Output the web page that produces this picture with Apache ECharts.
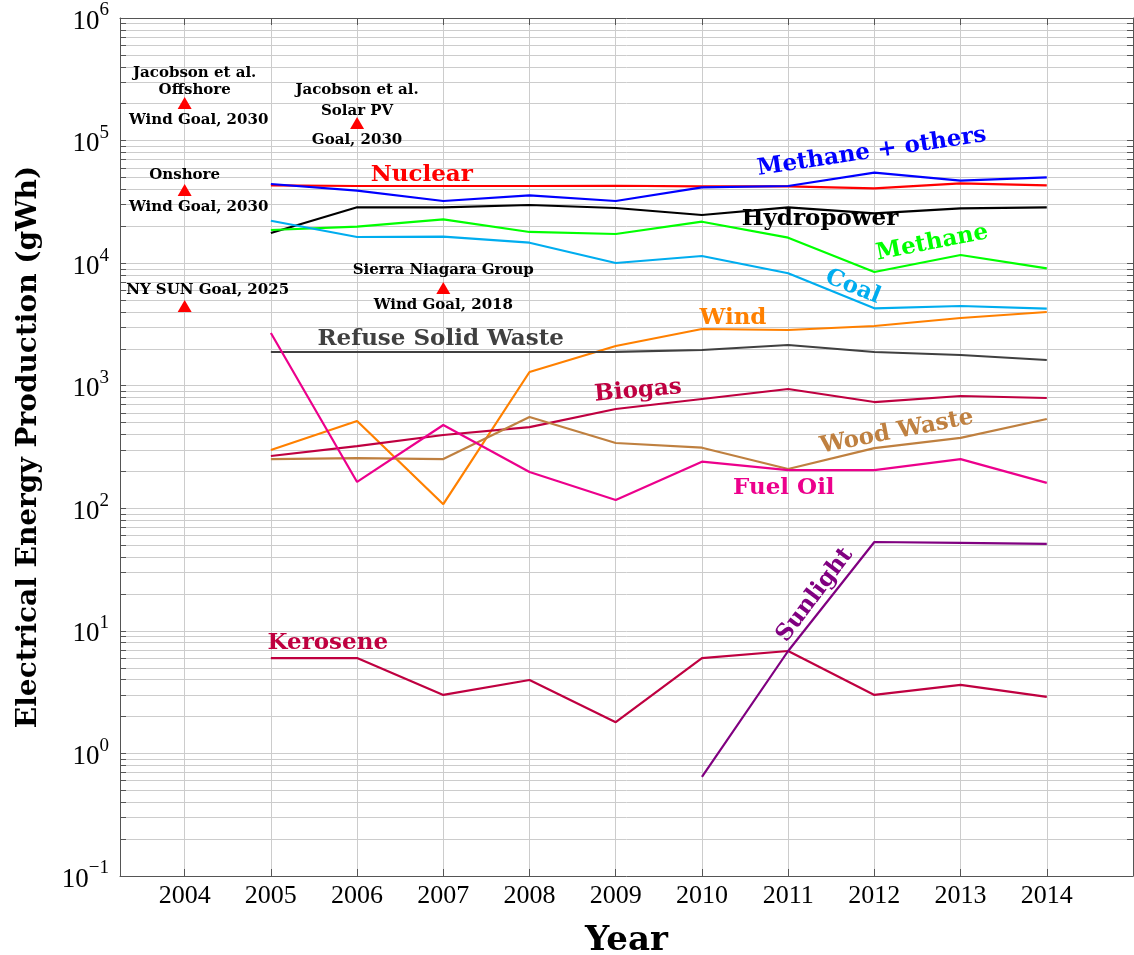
<!DOCTYPE html>
<html>
<head>
<meta charset="utf-8">
<script src="https://cdn.jsdelivr.net/npm/echarts@6/dist/echarts.min.js"></script>
<style>
  html, body { margin: 0; padding: 0; background: #fff; }
  #chart { width: 1134px; height: 955px; }
</style>
</head>
<body>
<div id="chart"></div>
<script>
// data (gWh), one value per year
const years = [2005, 2006, 2007, 2008, 2009, 2010, 2011, 2012, 2013, 2014];
const nuclear = [43150, 42590, 42590, 42590, 42800, 42350, 42350, 40800, 44820, 43150];
const methaneOthers = [44240, 38990, 32140, 35770, 32140, 41560, 42590, 54690, 47060, 50150];
const hydropower = [17620, 28550, 28550, 29810, 28180, 24700, 28550, 25510, 28020, 28550];
const methane = [18640, 19830, 22790, 17960, 17290, 21780, 16130, 8467, 11650, 9077];
const coal = [22190, 16340, 16430, 14680, 10030, 11440, 8264, 4280, 4470, 4249];
const wind = [299, 515, 108, 1294, 2109, 2902, 2848, 3070, 3567, 3994];
const refuseSolidWaste = [1884, 1884, 1884, 1884, 1890, 1956, 2149, 1884, 1781, 1621];
const biogas = [267, 322, 396, 460, 646, 779, 940, 736, 824, 794];
const woodWaste = [252, 257, 252, 555, 341, 312, 209, 310, 375, 535];
const fuelOil = [2692, 164, 478, 198, 117, 240, 205, 205, 252, 161];
const kerosene = [6.0, 6.0, 3.0, 3.97, 1.80, 6.0, 6.85, 3.0, 3.62, 2.89];
const sunlight = [null, null, null, null, null, 0.643, 6.85, 53.1, 52.2, 51.2];

// goals (triangles)
const goalYears = [2004, 2006, 2004, 2007, 2004];
const goalValues = [202600, 139100, 39510, 6269, 4470];
const goalTextAbove = ['Jacobson et al.\nOffshore', 'Jacobson et al.\nSolar PV', 'Onshore', 'Sierra Niagara Group', 'NY SUN Goal, 2025'];
const goalTextBelow = ['Wind Goal, 2030', 'Goal, 2030', 'Wind Goal, 2030', 'Wind Goal, 2018', ''];

// axis ticks
const tickYears = [2004, 2005, 2006, 2007, 2008, 2009, 2010, 2011, 2012, 2013, 2014];
const decades = [0.1, 1, 10, 100, 1000, 10000, 100000, 1000000];

const minorValues = [];
decades.slice(0, -1).forEach(d => { for (let k = 1; k <= 9; k++) minorValues.push(d * k); });
const gridValues = minorValues.filter(v => v > 0.1);

const seriesDefs = [
  { name: 'Nuclear', data: nuclear, color: '#ff0000' },
  { name: 'Methane + others', data: methaneOthers, color: '#0000ff' },
  { name: 'Hydropower', data: hydropower, color: '#000000' },
  { name: 'Methane', data: methane, color: '#00ff00' },
  { name: 'Coal', data: coal, color: '#00adef' },
  { name: 'Wind', data: wind, color: '#ff8000' },
  { name: 'Refuse Solid Waste', data: refuseSolidWaste, color: '#404040' },
  { name: 'Biogas', data: biogas, color: '#bf0040' },
  { name: 'Wood Waste', data: woodWaste, color: '#bf8040' },
  { name: 'Fuel Oil', data: fuelOil, color: '#ec008c' },
  { name: 'Kerosene', data: kerosene, color: '#bf0040' },
  { name: 'Sunlight', data: sunlight, color: '#800080' }
];

// inline curve labels, anchored in data space
const curveLabels = [
  { text: 'Nuclear', year: 2006.75, value: 52400, rotate: 0, color: '#ff0000' },
  { text: 'Methane + others', year: 2011.97, value: 80700, rotate: 8.5, color: '#0000ff' },
  { text: 'Hydropower', year: 2011.37, value: 22900, rotate: 0, color: '#000000' },
  { text: 'Methane', year: 2012.67, value: 14600, rotate: 11, color: '#00ff00' },
  { text: 'Coal', year: 2011.75, value: 6380, rotate: -22, color: '#00adef' },
  { text: 'Wind', year: 2010.36, value: 3560, rotate: 0, color: '#ff8000' },
  { text: 'Refuse Solid Waste', year: 2006.97, value: 2405, rotate: 0, color: '#404040' },
  { text: 'Biogas', year: 2009.26, value: 906, rotate: 5, color: '#bf0040' },
  { text: 'Wood Waste', year: 2012.26, value: 419, rotate: 11, color: '#bf8040' },
  { text: 'Fuel Oil', year: 2010.95, value: 146, rotate: 0, color: '#ec008c' },
  { text: 'Kerosene', year: 2005.66, value: 7.96, rotate: 0, color: '#bf0040' },
  { text: 'Sunlight', year: 2011.31, value: 19.6, rotate: 53, color: '#800080' }
];

// per-goal label tweaks: gap above the triangle, horizontal nudge
const goalAboveGap = [-2, -5, 0, 3, 1];
const goalNudge = [10, 0, 0, 0, 23];
const goalBelowNudge = [14, 0, 14, 0, 0];

const SERIF = '"Liberation Serif", "DejaVu Serif", serif';
const BOLD_SERIF = '"DejaVu Serif", serif';
const AXIS_COLOR = '#555555';
const GRID_COLOR = '#cccccc';

function pairs(vals) {
  return years.map((y, i) => [y, vals[i]]).filter(p => p[1] != null);
}

function powLabel(v) {
  const e = Math.round(Math.log10(v));
  return '{b|10}{s|' + (e < 0 ? '\u2212' + (-e) : e) + '}';
}

const chart = echarts.init(document.getElementById('chart'));

const xBase = {
  type: 'value', min: 2003.25, max: 2015,
  axisLine: { show: true, onZero: false, lineStyle: { color: AXIS_COLOR, width: 1 } },
  axisTick: { show: true, inside: true, length: 7, customValues: tickYears, lineStyle: { color: AXIS_COLOR } },
  splitLine: { show: false }
};
const yBase = {
  type: 'log', logBase: 10, min: 0.1, max: 1000000,
  axisLine: { show: true, lineStyle: { color: AXIS_COLOR, width: 1 } },
  axisTick: { show: true, inside: true, length: 6, customValues: minorValues.concat([1000000]), lineStyle: { color: AXIS_COLOR } },
  splitLine: { show: false },
  minorTick: { show: false }
};

const goalFont = { fontFamily: BOLD_SERIF, fontWeight: 'bold', fontSize: 15, lineHeight: 17, color: '#000', opacity: 1 };

const option = {
  animation: false,
  backgroundColor: '#fff',
  grid: { left: 120, right: 1, top: 18, bottom: 79, containLabel: false, outerBoundsMode: 'none' },
  xAxis: [
    Object.assign({}, xBase, {
      position: 'bottom',
      axisLabel: {
        customValues: tickYears, formatter: v => String(v),
        fontFamily: SERIF, fontSize: 26, color: '#000', margin: 7
      },
      name: 'Year', nameLocation: 'middle', nameGap: 48,
      nameTextStyle: { fontFamily: BOLD_SERIF, fontWeight: 'bold', fontSize: 34, color: '#000', verticalAlign: 'top' }
    }),
    Object.assign({}, xBase, { position: 'top', axisLabel: { show: false } })
  ],
  yAxis: [
    Object.assign({}, yBase, {
      position: 'left',
      axisLabel: {
        customValues: decades, formatter: powLabel, margin: 11,
        rich: {
          b: { fontFamily: SERIF, fontSize: 27, color: '#000', lineHeight: 34, verticalAlign: 'bottom' },
          s: { fontFamily: SERIF, fontSize: 19, color: '#000', lineHeight: 34, verticalAlign: 'top' }
        }
      },
      name: 'Electrical Energy Production (gWh)', nameLocation: 'middle', nameGap: 77, nameRotate: 90,
      nameTextStyle: { fontFamily: BOLD_SERIF, fontWeight: 'bold', fontSize: 28, color: '#000' }
    }),
    Object.assign({}, yBase, { position: 'right', axisLabel: { show: false } })
  ],
  series: [
    {
      name: 'grid', type: 'line', data: [], silent: true, z: 0,
      markLine: {
        silent: true, symbol: ['none', 'none'], animation: false, z: 0,
        label: { show: false },
        lineStyle: { color: GRID_COLOR, width: 1, type: 'solid' },
        emphasis: { disabled: true },
        data: tickYears.map(y => ({ xAxis: y })).concat(gridValues.map(v => ({ yAxis: v })))
      }
    }
  ].concat(seriesDefs.map(s => ({
    name: s.name, type: 'line', data: pairs(s.data), symbol: 'none', z: 3,
    lineStyle: { color: s.color, width: 2.2 }, itemStyle: { color: s.color },
    emphasis: { disabled: true }
  }))).concat([
    {
      name: 'goals', type: 'scatter', symbol: 'triangle', symbolSize: [14, 12], z: 6,
      itemStyle: { color: '#ff0000', opacity: 1 },
      emphasis: { disabled: true },
      label: Object.assign({ show: true, position: 'top' }, goalFont),
      data: goalYears.map((y, i) => ({
        value: [y, goalValues[i]],
        label: Object.assign(
          { formatter: goalTextAbove[i], distance: goalAboveGap[i], offset: [goalNudge[i], 0] },
          i === 1 ? { lineHeight: 21 } : {})
      }))
    },
    {
      name: 'goals-below', type: 'scatter', symbol: 'triangle', symbolSize: [14, 12], z: 6,
      itemStyle: { color: 'rgba(0,0,0,0)', opacity: 1 },
      emphasis: { disabled: true },
      label: Object.assign({ show: true, position: 'bottom', distance: 3 }, goalFont),
      data: goalYears.map((y, i) => ({
        value: [y, goalValues[i]],
        label: { formatter: goalTextBelow[i], offset: [goalBelowNudge[i], 0] }
      }))
    }
  ])
};

chart.setOption(option);

const labelGraphics = curveLabels.map(l => {
  const p = chart.convertToPixel({ xAxisIndex: 0, yAxisIndex: 0 }, [l.year, l.value]);
  return {
    type: 'text', x: p[0], y: p[1], rotation: l.rotate * Math.PI / 180, z: 10,
    style: {
      text: l.text, fill: l.color, align: 'center', verticalAlign: 'middle',
      font: 'bold 23px "DejaVu Serif", serif'
    }
  };
});
chart.setOption({ graphic: labelGraphics });
</script>
</body>
</html>
